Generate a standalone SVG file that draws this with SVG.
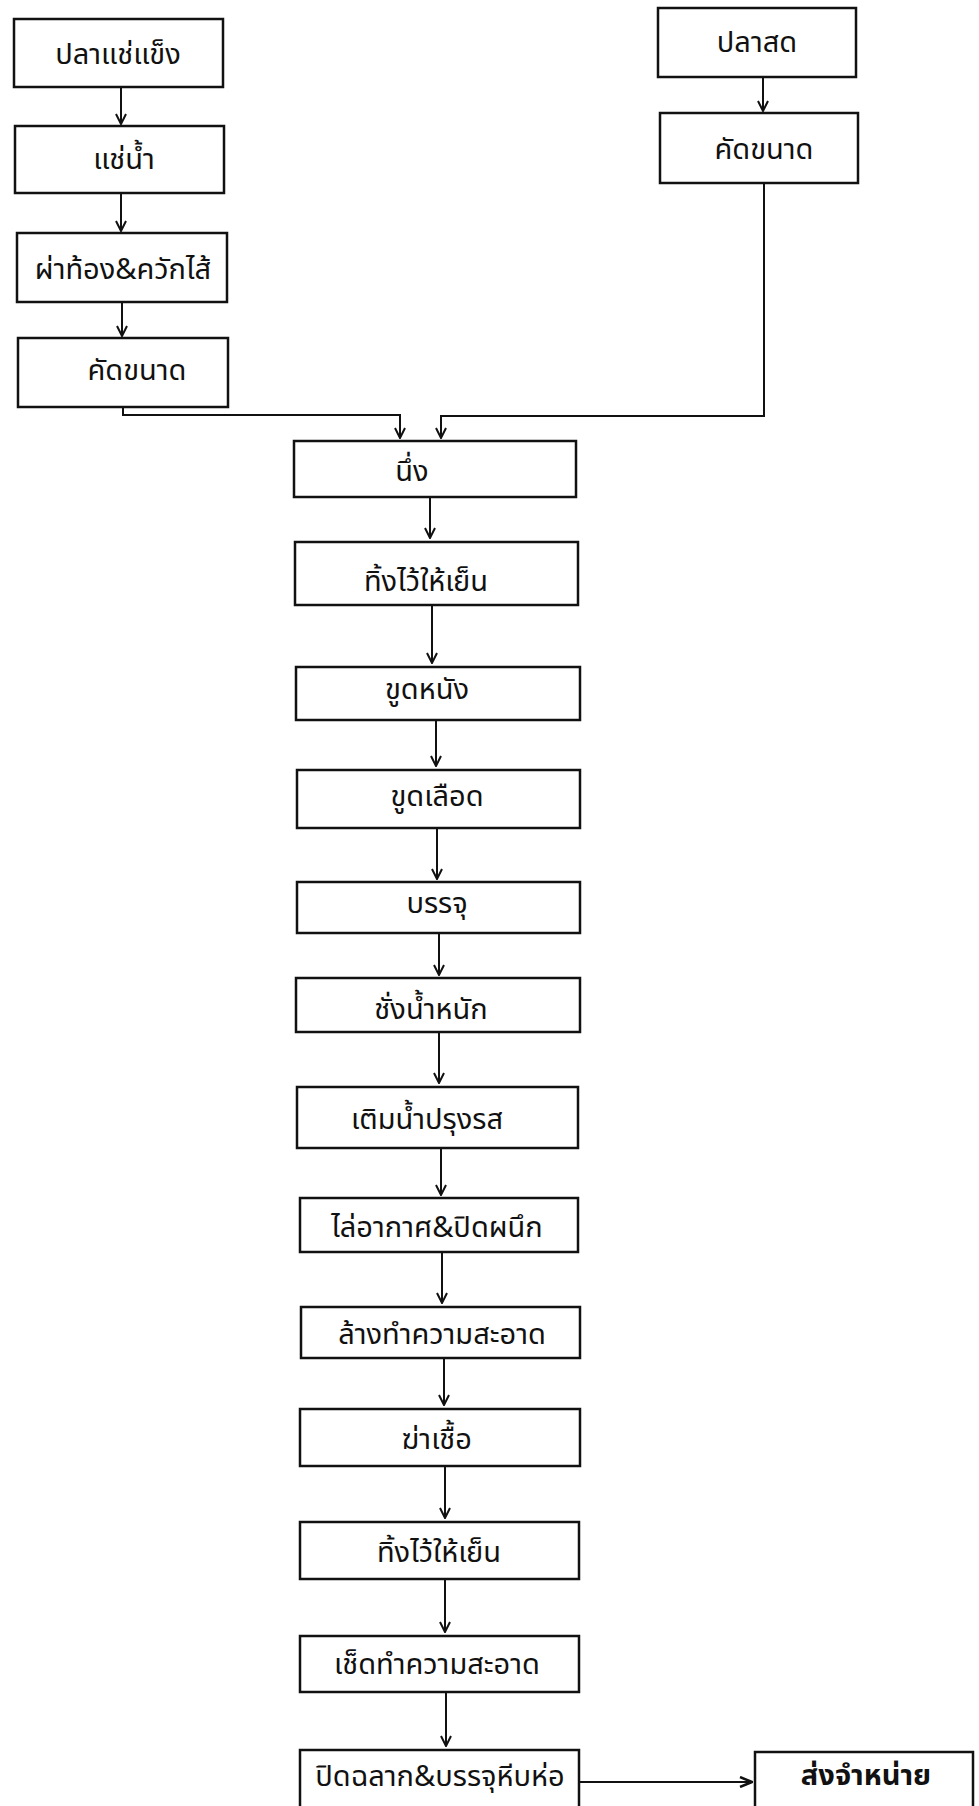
<svg xmlns="http://www.w3.org/2000/svg" width="979" height="1806" viewBox="0 0 979 1806">
<style>
.box{fill:#fff;stroke:#111;stroke-width:2.5}
.lbl{font-family:"Noto Sans Thai","Noto Sans","DejaVu Sans",sans-serif;font-size:29px;fill:#111;text-anchor:middle}
.bold{font-weight:bold}
.con{fill:none;stroke:#111;stroke-width:2}
</style>
<defs>
<marker id="ah" viewBox="0 0 12 12" refX="11" refY="6" markerWidth="12" markerHeight="12" markerUnits="userSpaceOnUse" orient="auto">
<path d="M1,1 L11,6 L1,11" fill="none" stroke="#111" stroke-width="2"/>
</marker>
<marker id="ahr" viewBox="0 0 14 12" refX="13" refY="6" markerWidth="14" markerHeight="12" markerUnits="userSpaceOnUse" orient="auto">
<path d="M1,1 L13,6 L1,11" fill="none" stroke="#111" stroke-width="2.5"/>
</marker>
</defs>
<rect width="979" height="1806" fill="#fff"/>
<g id="connectors">
<line class="con" x1="121" y1="87" x2="121" y2="124" marker-end="url(#ah)"/>
<line class="con" x1="121" y1="193" x2="121" y2="231" marker-end="url(#ah)"/>
<line class="con" x1="122" y1="302" x2="122" y2="336" marker-end="url(#ah)"/>
<line class="con" x1="763" y1="77" x2="763" y2="111" marker-end="url(#ah)"/>
<polyline class="con" points="123,407 123,415 400,415 400,438" marker-end="url(#ah)"/>
<polyline class="con" points="764,183 764,416 441,416 441,438" marker-end="url(#ah)"/>
<line class="con" x1="430" y1="497" x2="430" y2="538" marker-end="url(#ah)"/>
<line class="con" x1="432" y1="605" x2="432" y2="663" marker-end="url(#ah)"/>
<line class="con" x1="436" y1="720" x2="436" y2="766" marker-end="url(#ah)"/>
<line class="con" x1="437" y1="828" x2="437" y2="879" marker-end="url(#ah)"/>
<line class="con" x1="439" y1="933" x2="439" y2="975" marker-end="url(#ah)"/>
<line class="con" x1="439" y1="1032" x2="439" y2="1083" marker-end="url(#ah)"/>
<line class="con" x1="441" y1="1148" x2="441" y2="1195" marker-end="url(#ah)"/>
<line class="con" x1="442" y1="1252" x2="442" y2="1303" marker-end="url(#ah)"/>
<line class="con" x1="444" y1="1358" x2="444" y2="1405" marker-end="url(#ah)"/>
<line class="con" x1="445" y1="1466" x2="445" y2="1518" marker-end="url(#ah)"/>
<line class="con" x1="445" y1="1579" x2="445" y2="1632" marker-end="url(#ah)"/>
<line class="con" x1="446" y1="1692" x2="446" y2="1746" marker-end="url(#ah)"/>
<line class="con" x1="580" y1="1782" x2="752" y2="1782" stroke-width="2.5" marker-end="url(#ahr)"/>
</g>
<g id="n1"><rect class="box" x="14" y="19" width="209" height="68"/><text class="lbl" x="118" y="64">ปลาแช่แข็ง</text></g>
<g id="n2"><rect class="box" x="15" y="126" width="209" height="67"/><text class="lbl" x="124" y="169">แช่น้ำ</text></g>
<g id="n3"><rect class="box" x="17" y="233" width="210" height="69"/><text class="lbl" x="123" y="279">ผ่าท้อง&amp;ควักไส้</text></g>
<g id="n4"><rect class="box" x="18" y="338" width="210" height="69"/><text class="lbl" x="137" y="380">คัดขนาด</text></g>
<g id="n5"><rect class="box" x="658" y="8" width="198" height="69"/><text class="lbl" x="757" y="52">ปลาสด</text></g>
<g id="n6"><rect class="box" x="660" y="113" width="198" height="70"/><text class="lbl" x="764" y="159">คัดขนาด</text></g>
<g id="n7"><rect class="box" x="294" y="441" width="282" height="56"/><text class="lbl" x="412" y="481">นึ่ง</text></g>
<g id="n8"><rect class="box" x="295" y="542" width="283" height="63"/><text class="lbl" x="426" y="591">ทิ้งไว้ให้เย็น</text></g>
<g id="n9"><rect class="box" x="296" y="667" width="284" height="53"/><text class="lbl" x="427" y="699">ขูดหนัง</text></g>
<g id="n10"><rect class="box" x="297" y="770" width="283" height="58"/><text class="lbl" x="437" y="806">ขูดเลือด</text></g>
<g id="n11"><rect class="box" x="297" y="882" width="283" height="51"/><text class="lbl" x="437" y="913">บรรจุ</text></g>
<g id="n12"><rect class="box" x="296" y="978" width="284" height="54"/><text class="lbl" x="431" y="1019">ชั่งน้ำหนัก</text></g>
<g id="n13"><rect class="box" x="297" y="1087" width="281" height="61"/><text class="lbl" x="427" y="1129">เติมน้ำปรุงรส</text></g>
<g id="n14"><rect class="box" x="300" y="1198" width="278" height="54"/><text class="lbl" x="437" y="1237">ไล่อากาศ&amp;ปิดผนึก</text></g>
<g id="n15"><rect class="box" x="301" y="1307" width="279" height="51"/><text class="lbl" x="442" y="1344">ล้างทำความสะอาด</text></g>
<g id="n16"><rect class="box" x="300" y="1409" width="280" height="57"/><text class="lbl" x="437" y="1449">ฆ่าเชื้อ</text></g>
<g id="n17"><rect class="box" x="300" y="1522" width="279" height="57"/><text class="lbl" x="439" y="1562">ทิ้งไว้ให้เย็น</text></g>
<g id="n18"><rect class="box" x="300" y="1636" width="279" height="56"/><text class="lbl" x="437" y="1674">เช็ดทำความสะอาด</text></g>
<g id="n19"><rect class="box" x="300" y="1750" width="279" height="62"/><text class="lbl" x="440" y="1786">ปิดฉลาก&amp;บรรจุหีบห่อ</text></g>
<g id="n20"><rect class="box" x="755" y="1752" width="218" height="62"/><text class="lbl bold" x="866" y="1785">ส่งจำหน่าย</text></g>
</svg>
